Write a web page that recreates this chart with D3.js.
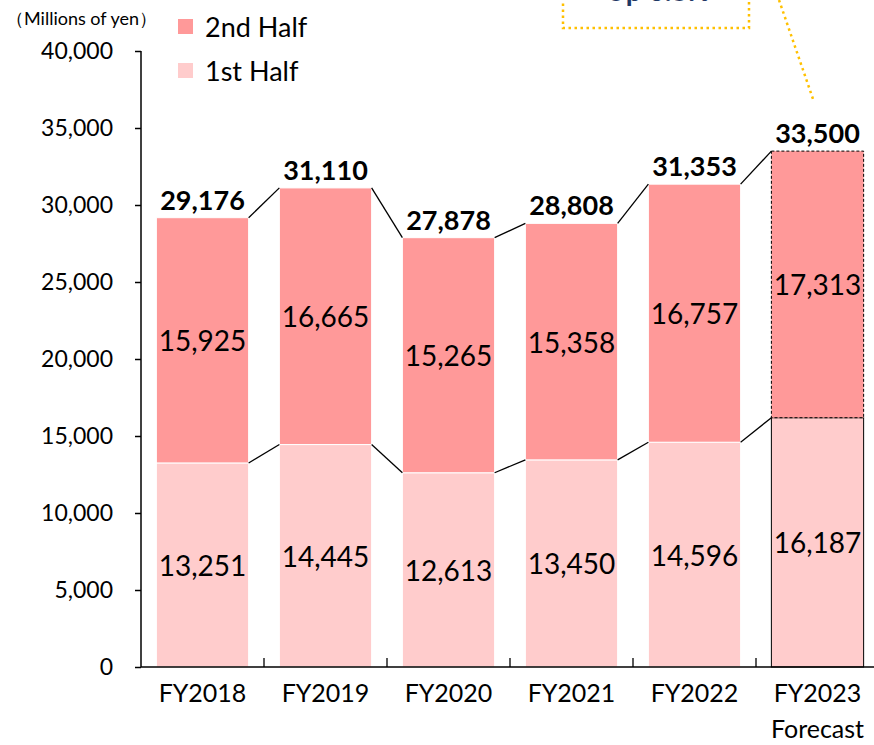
<!DOCTYPE html>
<html>
<head>
<meta charset="utf-8">
<script src="https://cdn.jsdelivr.net/npm/d3@7"></script>
<style>
  body { margin: 0; background: #fff; }
  text { font-family: Lato, "Open Sans", sans-serif; }
</style>
</head>
<body>
<script>
// 数据
var years = ["FY2018", "FY2019", "FY2020", "FY2021", "FY2022", "FY2023"];
var firstHalf = [13251, 14445, 12613, 13450, 14596, 16187];
var secondHalf = [15925, 16665, 15265, 15358, 16757, 17313];
var totals = [29176, 31110, 27878, 28808, 31353, 33500];
var yTicks = [0, 5000, 10000, 15000, 20000, 25000, 30000, 35000, 40000];

var w = 874, h = 745;
var c1 = "rgb(255,204,204)";
var c2 = "rgb(255,153,153)";

var svg = d3.select("body").append("svg")
    .attr("width", w)
    .attr("height", h);

// 比例尺
var x = d3.scaleBand()
    .domain(years)
    .range([141, 879])
    .paddingInner(0.25)
    .paddingOuter(0.125);

var y = d3.scaleLinear()
    .domain([0, 40000])
    .range([667, 51]);

var fmt = d3.format(",");

// 柱子
var data = years.map(function (d, i) {
    return { year: d, a: firstHalf[i], b: secondHalf[i], t: totals[i], last: i == years.length - 1 };
});

var g = svg.selectAll("g.bar")
    .data(data)
    .enter()
    .append("g")
    .attr("class", "bar");

g.append("rect")
    .attr("x", function (d) { return x(d.year); })
    .attr("width", x.bandwidth())
    .attr("y", function (d) { return y(d.a); })
    .attr("height", function (d) { return y(0) - y(d.a); })
    .attr("fill", c1)
    .attr("stroke", function (d) { return d.last ? "#000" : "#fff"; })
    .attr("stroke-width", 1);

g.append("rect")
    .attr("x", function (d) { return x(d.year); })
    .attr("width", x.bandwidth())
    .attr("y", function (d) { return y(d.a + d.b); })
    .attr("height", function (d) { return y(d.a) - y(d.a + d.b); })
    .attr("fill", c2)
    .attr("stroke", function (d) { return d.last ? "#000" : "#fff"; })
    .attr("stroke-dasharray", function (d) { return d.last ? "3,2" : null; })
    .attr("stroke-width", 1);

// 连接线
var pairs = d3.pairs(data);
["a", "t"].forEach(function (key) {
    svg.selectAll("line.c" + key)
        .data(pairs)
        .enter()
        .append("line")
        .attr("x1", function (p) { return x(p[0].year) + x.bandwidth(); })
        .attr("y1", function (p) { return y(p[0][key]); })
        .attr("x2", function (p) { return x(p[1].year); })
        .attr("y2", function (p) { return y(p[1][key]); })
        .attr("stroke", "#000")
        .attr("stroke-width", 1.3);
});

// 数值标签
g.append("text")
    .attr("x", function (d) { return x(d.year) + x.bandwidth() / 2; })
    .attr("y", function (d) { return y(d.a / 2) + 11; })
    .attr("text-anchor", "middle")
    .attr("font-size", 28)
    .text(function (d) { return fmt(d.a); });

g.append("text")
    .attr("x", function (d) { return x(d.year) + x.bandwidth() / 2; })
    .attr("y", function (d) { return y(d.a + d.b / 2) + 11; })
    .attr("text-anchor", "middle")
    .attr("font-size", 28)
    .text(function (d) { return fmt(d.b); });

g.append("text")
    .attr("x", function (d) { return x(d.year) + x.bandwidth() / 2; })
    .attr("y", function (d) { return y(d.t) - 8; })
    .attr("text-anchor", "middle")
    .attr("font-size", 27)
    .attr("font-weight", "bold")
    .text(function (d) { return fmt(d.t); });

// y轴
var yAxis = svg.append("g")
    .attr("transform", "translate(141,0)")
    .call(d3.axisLeft(y).tickValues(yTicks).tickFormat(fmt).tickSize(6).tickPadding(22));
yAxis.select(".domain").attr("stroke-width", 1.5).attr("d", "M0,51V667");
yAxis.selectAll("line").attr("stroke-width", 1.5);
yAxis.selectAll("text")
    .attr("font-size", 23)
    .attr("fill", "#000")
    .style("font-family", "Lato, sans-serif");

// x轴
var xAxis = svg.append("g")
    .attr("transform", "translate(0,667)")
    .call(d3.axisBottom(x).tickSize(0).tickPadding(17));
xAxis.select(".domain").attr("stroke-width", 1.5).attr("d", "M141,0H874");
xAxis.selectAll("text")
    .attr("font-size", 25)
    .attr("fill", "#000")
    .style("font-family", "Lato, sans-serif");

// x轴类别分隔刻度
svg.selectAll("line.sep")
    .data(years.slice(1))
    .enter()
    .append("line")
    .attr("class", "sep")
    .attr("x1", function (d) { return x(d) - x.step() * x.paddingInner() / 2; })
    .attr("x2", function (d) { return x(d) - x.step() * x.paddingInner() / 2; })
    .attr("y1", 667)
    .attr("y2", 658)
    .attr("stroke", "#000")
    .attr("stroke-width", 1.3);

svg.append("text")
    .attr("x", x("FY2023") + x.bandwidth() / 2)
    .attr("y", 738)
    .attr("text-anchor", "middle")
    .attr("font-size", 25)
    .text("Forecast");

// 单位
svg.append("text")
    .attr("x", 6)
    .attr("y", 25)
    .attr("font-size", 18)
    .text("（Millions of yen）");

// 图例
var legend = [{ label: "2nd Half", color: c2 }, { label: "1st Half", color: c1 }];
var lg = svg.selectAll("g.legend")
    .data(legend)
    .enter()
    .append("g")
    .attr("transform", function (d, i) { return "translate(178," + (19 + i * 44) + ")"; });
lg.append("rect")
    .attr("width", 15)
    .attr("height", 15)
    .attr("fill", function (d) { return d.color; });
lg.append("text")
    .attr("x", 27)
    .attr("y", 18)
    .attr("font-size", 27)
    .text(function (d) { return d.label; });

// 注释框（被裁掉一部分）
svg.append("rect")
    .attr("x", 563)
    .attr("y", -40)
    .attr("width", 186)
    .attr("height", 68)
    .attr("fill", "none")
    .attr("stroke", "#FFC000")
    .attr("stroke-width", 2.5)
    .attr("stroke-dasharray", "2.5,3.5");
svg.append("text")
    .attr("x", 658)
    .attr("y", 1)
    .attr("text-anchor", "middle")
    .attr("font-size", 28)
    .attr("font-weight", "bold")
    .attr("fill", "#1F3864")
    .text("Up 6.8%");
svg.append("line")
    .attr("x1", 779)
    .attr("y1", 0)
    .attr("x2", 813)
    .attr("y2", 99)
    .attr("stroke", "#FFC000")
    .attr("stroke-width", 2.5)
    .attr("stroke-dasharray", "2.5,3.5");
</script>
</body>
</html>
